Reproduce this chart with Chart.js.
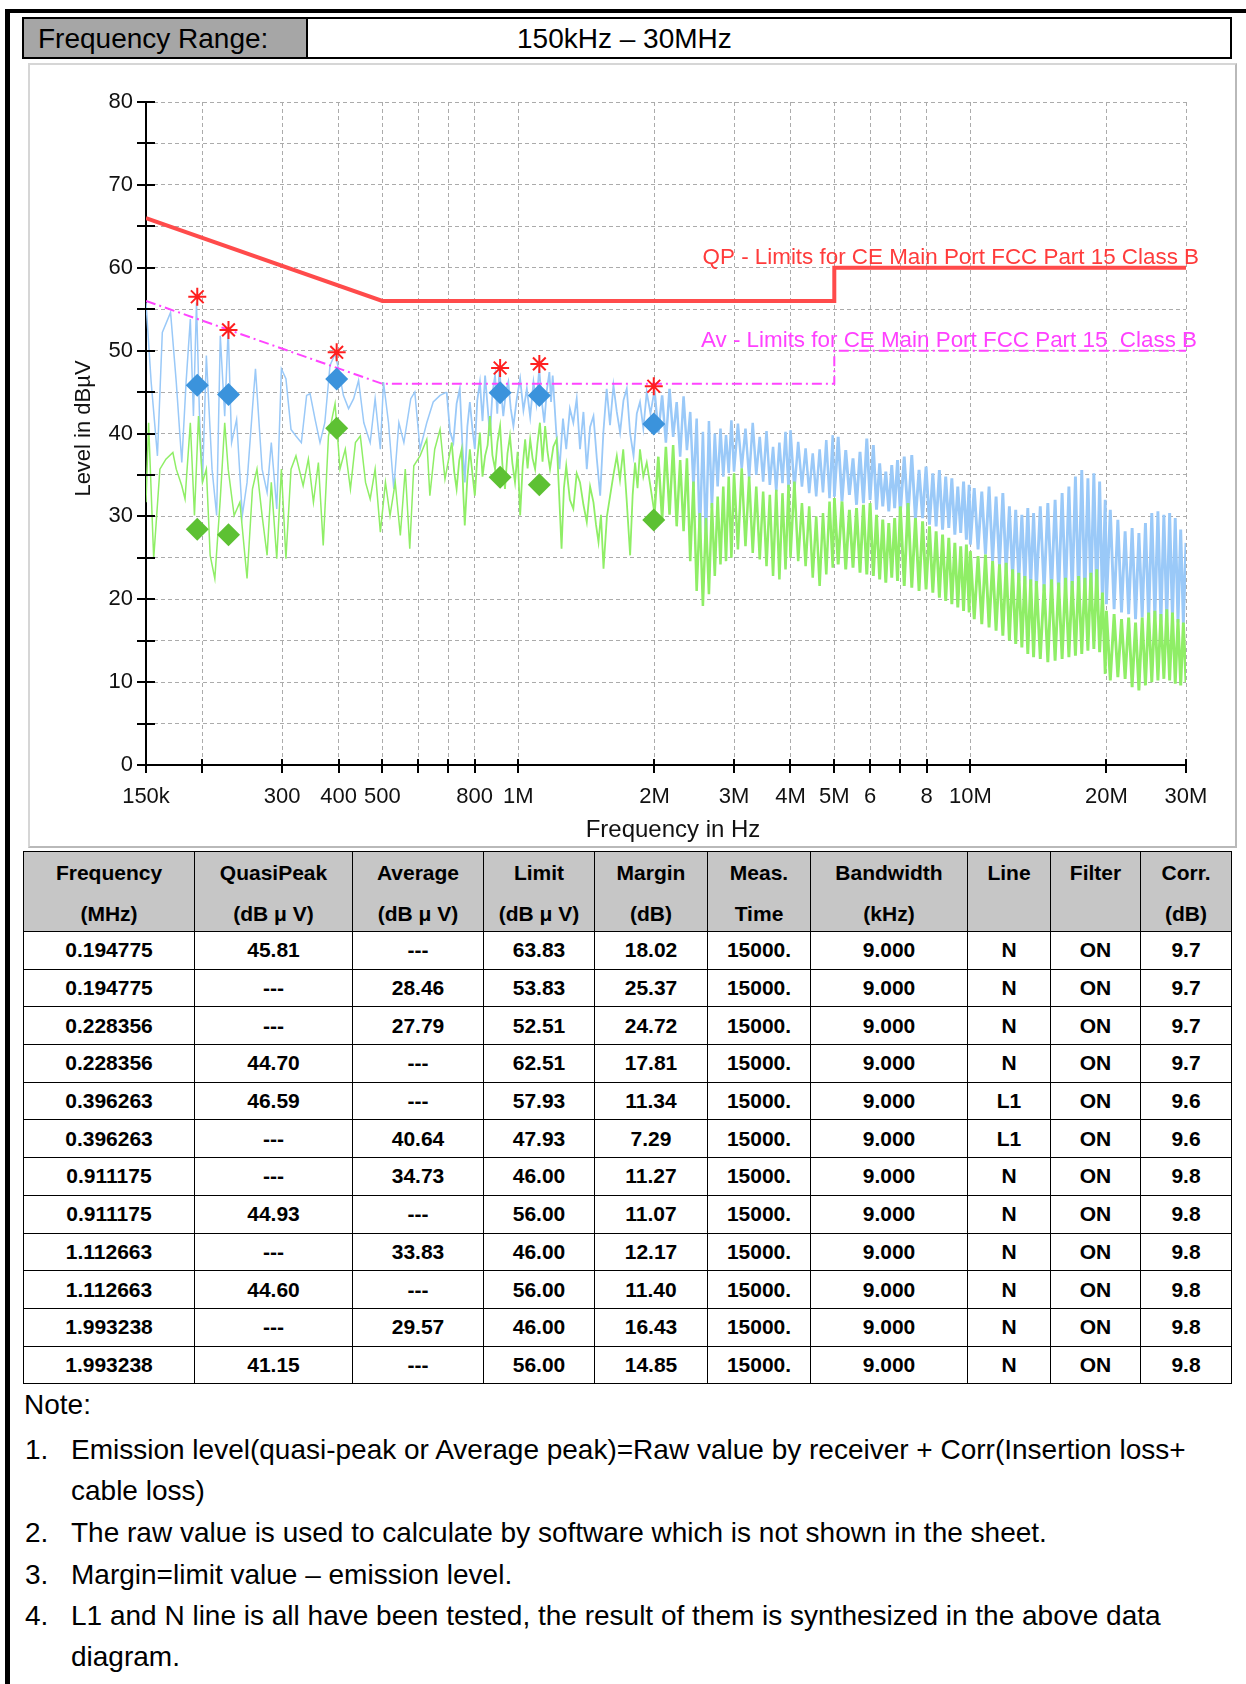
<!DOCTYPE html>
<html>
<head>
<meta charset="utf-8">
<title>Conducted emission 150kHz – 30MHz</title>
<script src="https://cdn.jsdelivr.net/npm/chart.js@4.4.1/dist/chart.umd.min.js"></script>
<style>
  html, body { margin: 0; padding: 0; background: #fff; }
  body { width: 1246px; height: 1684px; position: relative; overflow: hidden;
         font-family: "Liberation Sans", Arial, sans-serif; color: #000; }
  .rule-top { position: absolute; left: 5px; top: 9px; width: 1241px; height: 4px; background: #000; }
  .rule-left { position: absolute; left: 5px; top: 9px; width: 5px; height: 1675px; background: #000; }
  .range { position: absolute; left: 22px; top: 17px; width: 1210px; height: 42px;
           box-sizing: border-box; border: 2px solid #000; font-size: 28px; }
  .range .key { position: absolute; left: 0; top: 0; height: 38px; background: #a6a6a6;
                border-right: 2px solid #000; line-height: 40px; padding-left: 14px; box-sizing: border-box; width: 284px; }
  .range .val { position: absolute; left: 493px; top: 0; line-height: 40px; }
  .panel { position: absolute; left: 28px; top: 63px; width: 1209px; height: 785px; box-sizing: border-box;
           border-style: solid; border-width: 2px; border-color: #d6d6d6 #b9b9b9 #b9b9b9 #d6d6d6; background: #fff; }
  .panel canvas { position: absolute; left: 0; top: 0; }
  .results { position: absolute; left: 23px; top: 851px; display: grid; background: #000; gap: 1px; padding: 1px;
             grid-template-columns: 170px 157px 130px 110px 112px 102px 156px 82px 89px 90px;
             grid-template-rows: 79px repeat(12, 36.7px);
             font: bold 21px "Liberation Sans", Arial, sans-serif; }
  .results div { background: #fff; display: flex; align-items: center; justify-content: center; text-align: center; }
  .results div.head { background: #c6c6c6; flex-direction: column; justify-content: flex-start; line-height: 41px; }
  .notes { position: absolute; left: 0; top: 0; font-size: 28px; }
  .notes div { position: absolute; white-space: nowrap; line-height: 40px; }
</style>
</head>
<body>
<div class="rule-top"></div>
<div class="rule-left"></div>

<div class="range">
  <div class="key">Frequency Range:</div>
  <div class="val">150kHz – 30MHz</div>
</div>

<div class="panel">
  <canvas id="emi" width="1205" height="781" style="width:1205px;height:781px"></canvas>
</div>

<div class="results" id="results"></div>

<div class="notes">
  <div style="left:24px;top:1385px">Note:</div>
  <div style="left:25px;top:1430px">1.</div>
  <div style="left:71px;top:1430px">Emission level(quasi-peak or Average peak)=Raw value by receiver + Corr(Insertion loss+</div>
  <div style="left:71px;top:1471px">cable loss)</div>
  <div style="left:25px;top:1513px">2.</div>
  <div style="left:71px;top:1513px">The raw value is used to calculate by software which is not shown in the sheet.</div>
  <div style="left:25px;top:1555px">3.</div>
  <div style="left:71px;top:1555px">Margin=limit value – emission level.</div>
  <div style="left:25px;top:1596px">4.</div>
  <div style="left:71px;top:1596px">L1 and N line is all have been tested, the result of them is synthesized in the above data</div>
  <div style="left:71px;top:1637px">diagram.</div>
</div>

<script>
// ---- Axis ticks ----
const xTickValues = [0.15, 0.2, 0.3, 0.4, 0.5, 0.6, 0.7, 0.8, 1, 2, 3, 4, 5, 6, 7, 8, 10, 20, 30];
const xTickLabels = ['150k', '', '300', '400', '500', '', '', '800', '1M', '2M', '3M', '4M', '5M', '6', '', '8', '10M', '20M', '30M'];
const xTitle = 'Frequency in Hz';
const yTitle = 'Level in dBµV';

// ---- Limit lines (MHz / dBµV) ----
const limitFreq = [0.15, 0.5, 5, 5, 30];
const qpLimit = [66, 56, 56, 60, 60];
const avLimit = [56, 46, 46, 50, 50];
const qpLimitLabel = 'QP - Limits for CE Main Port FCC Part 15 Class B';
const avLimitLabel = 'Av - Limits for CE Main Port FCC Part 15  Class B';

// ---- Final measurement points ----
const markerFreq = [0.194775, 0.228356, 0.396263, 0.911175, 1.112663, 1.993238];
const qpLevel = [45.81, 44.70, 46.59, 44.93, 44.60, 41.15];
const avLevel = [28.46, 27.79, 40.64, 34.73, 33.83, 29.57];
const peakMarkLevel = [56.5, 52.5, 49.8, 47.9, 48.4, 45.7];
const qpLimitAt = [63.83, 62.51, 57.93, 56.00, 56.00, 56.00];
const avLimitAt = [53.83, 52.51, 47.93, 46.00, 46.00, 46.00];
const qpMargin = [18.02, 17.81, 11.34, 11.07, 11.40, 14.85];
const avMargin = [25.37, 24.72, 7.29, 11.27, 12.17, 16.43];
const lineName = ['N', 'N', 'L1', 'N', 'N', 'N'];
const corrDb = [9.7, 9.7, 9.6, 9.8, 9.8, 9.8];
const tableRows = [[0, 'QP'], [0, 'AV'], [1, 'AV'], [1, 'QP'], [2, 'QP'], [2, 'AV'],
                   [3, 'AV'], [3, 'QP'], [4, 'AV'], [4, 'QP'], [5, 'AV'], [5, 'QP']];

// ---- Peak-detector scan, 150 kHz – 2 MHz ----
const lowPeakFreq = [
  0.150,0.154,0.159,0.163,0.170,0.175,0.180,0.184,0.188,0.191,0.194,0.197,0.200,0.204,0.210,0.215,
  0.219,0.224,0.228,0.232,0.238,0.245,0.251,0.258,0.262,0.271,0.278,0.284,0.292,0.299,0.306,0.314,
  0.322,0.331,0.340,0.346,0.355,0.364,0.373,0.383,0.393,0.400,0.410,0.421,0.432,0.443,0.455,0.470,
  0.482,0.495,0.503,0.516,0.530,0.544,0.558,0.578,0.590,0.606,0.627,0.648,0.671,
  0.694,0.706,0.718,0.730,0.742,0.752,0.761,0.771,0.781,0.791,0.801,0.811,0.822,0.833,0.844,0.855,
  0.865,0.876,0.888,0.898,0.908,0.917,0.926,0.938,0.950,0.962,0.975,0.992,1.009,1.026,1.044,1.062,
  1.080,1.096,1.112,1.126,1.141,1.156,1.171,1.181,1.191,1.212,1.233,1.255,1.276,1.300,1.323,1.346,
  1.369,1.393,1.417,1.441,1.466,1.491,1.517,1.542,1.568,1.595,1.623,1.651,1.679,1.708,1.737,1.767,
  1.798,1.828,1.858,1.890,1.923,1.960
];
const lowPeakLevel = [
  55.8,46.2,37.3,52.2,54.6,46.2,36.5,46.2,53.8,42.1,55.8,42.1,34.1,49.4,35.7,30.1,
  51.8,42.1,52.6,38.9,41.7,30.1,34.1,43.0,47.8,35.7,32.9,38.9,30.9,47.8,46.6,40.5,
  39.7,38.9,44.6,44.8,41.7,38.9,41.3,48.2,49.6,47.8,44.6,43.0,44.2,46.4,41.3,38.9,
  44.2,38.1,46.2,41.3,33.3,41.3,38.9,44.2,45.0,38.1,41.3,43.8,44.6,
  45.0,40.2,38.9,43.6,45.4,38.4,34.1,40.8,43.8,40.6,38.1,44.0,46.2,41.5,47.0,43.2,
  39.7,44.8,47.0,42.4,47.8,44.6,42.1,45.0,46.2,43.0,40.9,44.2,46.6,42.8,45.4,42.0,
  46.2,43.6,47.8,44.0,41.3,45.2,47.4,43.8,47.0,40.4,35.7,41.8,38.1,43.0,41.3,44.2,
  38.1,42.6,35.7,40.8,42.1,37.0,32.5,40.2,45.4,41.0,45.8,42.6,40.1,44.0,45.4,40.0,
  37.3,42.4,43.8,40.6,45.0,42.4
];

// ---- Average-detector scan, 150 kHz – 2 MHz ----
const lowAvgFreq = [
  0.150,0.152,0.156,0.161,0.166,0.172,0.175,0.180,0.183,0.188,0.192,0.196,0.200,0.204,0.208,0.213,
  0.219,0.224,0.228,0.235,0.242,0.251,0.258,0.264,0.271,0.278,0.284,0.292,0.299,0.306,0.314,0.322,
  0.334,0.343,0.352,0.361,0.370,0.380,0.393,0.403,0.414,0.425,0.436,0.447,0.459,0.470,0.482,0.495,
  0.508,0.520,0.534,0.548,0.562,0.575,0.587,0.606,0.627,0.637,0.653,0.671,0.688,0.712,
  0.721,0.730,0.740,0.749,0.755,0.761,0.771,0.781,0.791,0.801,0.811,0.822,0.833,0.844,0.855,0.865,
  0.876,0.888,0.899,0.911,0.922,0.934,0.946,0.958,0.970,0.983,0.996,1.009,1.022,1.035,1.048,1.062,
  1.075,1.089,1.102,1.116,1.131,1.146,1.160,1.175,1.195,1.215,1.230,1.246,1.261,1.276,1.300,1.323,
  1.346,1.369,1.393,1.417,1.441,1.466,1.485,1.504,1.523,1.543,1.570,1.596,1.623,1.651,1.678,1.706,
  1.736,1.767,1.790,1.812,1.835,1.858,1.890,1.923,1.960
];
const lowAvgLevel = [
  31.7,41.3,24.9,35.7,36.9,37.7,35.7,33.7,32.1,41.3,30.1,42.1,34.1,35.7,25.3,22.5,
  32.1,41.3,35.7,30.1,31.7,22.5,33.3,35.7,30.1,25.3,34.1,24.9,35.7,24.9,35.7,37.3,
  33.7,36.9,31.7,36.5,26.5,39.7,43.6,35.7,38.1,33.3,38.9,39.7,34.1,32.1,35.7,28.1,
  34.1,30.1,34.1,27.7,35.7,26.1,36.1,37.3,39.3,32.5,38.1,40.5,34.5,38.9,
  35.4,33.3,36.8,38.1,33.0,28.9,34.6,38.1,35.2,32.5,37.0,40.1,34.8,37.3,38.6,42.1,
  37.4,35.7,39.0,40.9,36.2,33.3,37.6,39.7,36.4,34.1,37.8,30.1,36.0,39.3,35.8,39.3,
  37.0,35.7,38.8,41.3,36.6,40.9,37.8,35.7,38.4,39.3,33.0,26.1,33.4,36.1,32.0,30.9,
  35.2,34.1,31.4,29.3,33.6,31.7,29.0,26.9,30.2,23.7,30.0,32.5,35.0,37.3,34.4,38.1,
  32.0,25.3,32.6,36.5,33.4,38.1,34.8,36.5,33.6
];

// ---- Both detectors, 2 MHz – 30 MHz ----
const bandFreq = [
  2.00,2.04,2.08,2.12,2.16,2.20,2.24,2.28,2.32,2.36,2.40,2.44,2.48,2.52,2.56,2.60,2.64,2.68,2.72,2.76,2.80,2.84,2.88,2.92,2.96,
  3.00,3.06,3.12,3.18,3.24,3.30,3.36,3.42,3.48,3.54,3.60,3.66,3.72,3.78,3.84,3.90,3.96,
  4.00,4.08,4.16,4.24,4.32,4.40,4.48,4.56,4.64,4.72,4.80,4.88,4.96,
  5.0,5.1,5.2,5.3,5.4,5.5,5.6,5.7,5.8,5.9,6.0,6.1,6.2,6.3,6.4,6.5,6.6,6.7,6.8,6.9,
  7.00,7.14,7.28,7.42,7.56,7.70,7.84,7.98,8.12,8.26,8.40,8.54,8.68,8.82,8.96,9.10,9.24,9.38,9.52,9.66,9.80,9.94,
  10.0,10.2,10.4,10.6,10.8,11.0,11.2,11.4,11.6,11.8,12.0,12.2,12.4,12.6,12.8,13.0,13.2,13.4,13.6,13.8,
  14.00,14.28,14.56,14.84,15.12,15.40,15.68,15.96,16.24,16.52,16.80,17.08,17.36,17.64,17.92,18.20,18.48,18.76,19.04,19.32,19.60,19.88,
  20.0,20.4,20.8,21.2,21.6,22.0,22.4,22.8,23.2,23.6,24.0,24.4,24.8,25.2,25.6,26.0,26.4,26.8,27.2,27.6,28.0,28.4,28.8,29.2,29.6,30.0
];
const bandPeakLevel = [
  45.2,40.1,44.6,38.9,45.4,39.6,43.8,37.2,44.5,38.0,42.6,33.5,41.8,27.4,40.2,26.8,41.5,31.0,40.0,33.6,40.6,34.8,39.8,35.2,41.6,
  35.4,41.2,35.8,40.6,34.6,41.3,35.0,39.6,34.2,40.3,33.8,38.4,33.0,38.9,34.0,40.2,33.4,
  40.4,33.2,39.0,33.6,38.2,32.8,37.6,32.4,38.1,32.9,39.2,32.2,39.8,
  32.4,39.6,31.8,38.0,32.6,37.0,31.4,37.8,31.6,39.4,32.0,38.6,30.8,36.4,31.2,35.4,30.6,36.2,31.0,36.8,
  30.4,37.2,30.0,37.4,29.6,35.6,29.8,36.0,29.0,35.2,28.8,35.6,28.4,34.8,28.6,34.6,27.8,33.6,28.0,34.2,27.2,33.8,
  26.6,33.4,26.0,33.0,25.4,33.6,24.6,32.4,24.0,32.8,23.2,31.2,22.6,30.8,22.2,30.2,21.8,31.0,21.6,30.4,
  21.2,31.2,21.0,31.6,20.8,32.0,20.6,32.8,20.4,33.6,20.6,34.8,20.2,35.6,20.0,34.6,20.4,35.2,19.8,34.2,19.6,32.0,
  19.4,30.8,18.8,29.6,18.4,28.2,18.2,28.6,17.6,28.0,17.8,29.2,17.4,30.4,17.6,30.6,17.2,30.2,17.4,30.4,17.6,29.8,17.2,28.4,17.0,26.8
];
const bandAvgLevel = [
  30.4,37.2,29.6,38.4,30.2,38.6,28.8,36.8,28.2,37.0,24.6,34.2,21.0,30.4,19.2,29.8,20.6,31.6,22.8,32.4,24.2,33.6,24.6,34.8,25.0,
  35.2,26.0,35.8,26.4,34.8,25.6,33.6,24.8,33.0,24.0,32.6,22.8,33.2,22.4,32.8,23.6,33.8,
  25.0,34.2,24.6,31.6,24.0,31.2,22.6,30.0,21.6,30.4,23.0,31.8,23.8,
  32.2,24.2,31.8,23.6,30.8,23.8,31.0,23.2,31.4,23.0,31.6,22.8,30.2,22.4,29.6,22.0,29.2,22.6,29.8,22.2,
  31.2,21.6,31.6,21.4,29.8,21.0,29.4,21.2,28.8,20.8,28.2,20.2,27.8,19.8,27.4,19.4,26.8,19.0,26.4,18.6,26.6,18.4,
  25.8,17.6,25.2,17.0,25.4,16.6,24.6,16.2,24.2,15.6,24.4,15.0,23.6,14.6,23.2,14.2,22.8,13.4,22.4,13.0,
  22.2,12.8,21.8,12.4,22.4,12.6,22.0,12.8,22.6,13.0,22.2,13.2,22.8,13.4,22.6,13.8,23.2,14.0,23.6,13.6,20.8,11.0,
  18.6,10.2,18.2,10.6,17.6,10.4,17.8,9.4,17.2,9.0,17.8,9.6,18.4,10.0,18.6,10.2,18.2,10.4,18.8,10.2,18.4,9.8,17.6,9.6,17.2,10.0
];

// ---- Result table ----
const headCells = [['Frequency', '(MHz)'], ['QuasiPeak', '(dB μ V)'], ['Average', '(dB μ V)'], ['Limit', '(dB μ V)'],
                   ['Margin', '(dB)'], ['Meas.', 'Time'], ['Bandwidth', '(kHz)'], ['Line', ''], ['Filter', ''], ['Corr.', '(dB)']];
const grid = document.getElementById('results');
headCells.forEach(([a, b]) => {
  const d = document.createElement('div');
  d.className = 'head';
  d.innerHTML = '<span>' + a + '</span><span>' + (b || '&nbsp;') + '</span>';
  grid.appendChild(d);
});
tableRows.forEach(([i, kind]) => {
  const isQp = kind === 'QP';
  const cells = [
    markerFreq[i].toFixed(6),
    isQp ? qpLevel[i].toFixed(2) : '---',
    isQp ? '---' : avLevel[i].toFixed(2),
    (isQp ? qpLimitAt : avLimitAt)[i].toFixed(2),
    (isQp ? qpMargin : avMargin)[i].toFixed(2),
    '15000.', '9.000', lineName[i], 'ON', corrDb[i].toFixed(1)
  ];
  cells.forEach(t => { const d = document.createElement('div'); d.textContent = t; grid.appendChild(d); });
});

// ---- Chart ----
const FONT = '"Liberation Sans", Arial, sans-serif';
Chart.defaults.font.family = FONT;
const toPoints = (fs, ls) => fs.map((f, i) => ({ x: f, y: ls[i] }));

// the scan gets denser towards high frequencies, so the trace is stroked wider there
const traceWidth = c => {
  const f = c.p0.parsed.x;
  if (f >= 5) return 2.9;
  if (f >= 2) return 2.5;
  return f >= 0.69 ? 1.8 : 1.5;
};

const axisDecor = {
  id: 'axisDecor',
  afterDraw(chart) {
    const { ctx, chartArea: a, scales: { x, y } } = chart;
    ctx.save();
    ctx.strokeStyle = '#000';
    ctx.lineWidth = 2;
    ctx.beginPath();
    y.ticks.forEach(t => {
      const p = Math.round(y.getPixelForValue(t.value));
      ctx.moveTo(a.left - 9, p); ctx.lineTo(a.left + 9, p);
    });
    x.ticks.forEach(t => {
      const p = Math.round(x.getPixelForValue(t.value));
      ctx.moveTo(p, a.bottom - 6); ctx.lineTo(p, a.bottom + 8);
    });
    ctx.stroke();

    ctx.fillStyle = '#111';
    ctx.textAlign = 'center';
    ctx.textBaseline = 'middle';
    ctx.font = '24px ' + FONT;
    ctx.fillText(xTitle, (a.left + a.right) / 2 + 7, a.bottom + 65);
    ctx.save();
    ctx.translate(54, (a.top + a.bottom) / 2 - 5);
    ctx.rotate(-Math.PI / 2);
    ctx.font = '22px ' + FONT;
    ctx.fillText(yTitle, 0, 0);
    ctx.restore();

    ctx.font = '22.4px ' + FONT;
    ctx.textAlign = 'right';
    ctx.textBaseline = 'alphabetic';
    ctx.fillStyle = '#ff3b3b';
    ctx.fillText(qpLimitLabel, a.right + 13, y.getPixelForValue(qpLimit[qpLimit.length - 1]) - 4);
    ctx.fillStyle = '#ff40ff';
    ctx.fillText(avLimitLabel, a.right + 11, y.getPixelForValue(avLimit[avLimit.length - 1]) - 4);
    ctx.restore();
  }
};

const gridStyle = { color: '#ababab', lineWidth: 1, drawTicks: false };
const borderStyle = { display: true, color: '#000', width: 2, dash: [4, 3] };

new Chart(document.getElementById('emi'), {
  type: 'scatter',
  data: {
    datasets: [
      { label: 'Peak', data: toPoints(lowPeakFreq.concat(bandFreq), lowPeakLevel.concat(bandPeakLevel)),
        showLine: true, borderColor: '#9ac9f8', borderWidth: 1.5, pointRadius: 0, order: 7,
        segment: { borderWidth: traceWidth } },
      { label: 'Average', data: toPoints(lowAvgFreq.concat(bandFreq), lowAvgLevel.concat(bandAvgLevel)),
        showLine: true, borderColor: '#8fee66', borderWidth: 1.5, pointRadius: 0, order: 6,
        segment: { borderWidth: traceWidth } },
      { label: 'QP limit', data: toPoints(limitFreq, qpLimit),
        showLine: true, borderColor: '#ff4b4b', borderWidth: 4, pointRadius: 0, order: 5 },
      { label: 'AV limit', data: toPoints(limitFreq, avLimit),
        showLine: true, borderColor: '#ff44ff', borderWidth: 2, borderDash: [10, 4, 2, 4], pointRadius: 0, order: 4 },
      { label: 'QP', data: toPoints(markerFreq, qpLevel), pointStyle: 'rectRot', pointRadius: 11.5,
        backgroundColor: '#3b93dc', borderColor: '#3b93dc', borderWidth: 0, order: 3 },
      { label: 'AV', data: toPoints(markerFreq, avLevel), pointStyle: 'rectRot', pointRadius: 11.5,
        backgroundColor: '#5dc133', borderColor: '#5dc133', borderWidth: 0, order: 2 },
      { label: 'Peak marks', data: toPoints(markerFreq, peakMarkLevel), pointStyle: 'star', pointRadius: 9,
        borderColor: '#ff1f1f', backgroundColor: '#ff1f1f', borderWidth: 2, order: 1 }
    ]
  },
  options: {
    responsive: false,
    animation: false,
    devicePixelRatio: 1,
    layout: { padding: { left: 0, top: 37, right: 49, bottom: 0 } },
    plugins: { legend: { display: false }, tooltip: { enabled: false } },
    scales: {
      x: {
        type: 'logarithmic', min: 0.15, max: 30,
        afterFit(s) { s.height = 81; },
        afterBuildTicks(s) { s.ticks = xTickValues.map(v => ({ value: v })); },
        ticks: { autoSkip: false, maxRotation: 0, minRotation: 0, padding: 19, color: '#111',
                 font: { size: 22 }, callback: (v, i) => xTickLabels[i] },
        grid: gridStyle,
        border: borderStyle
      },
      y: {
        min: 0, max: 80,
        afterFit(s) { s.width = 116; },
        ticks: { stepSize: 5, autoSkip: false, padding: 13, color: '#111', font: { size: 22 },
                 callback: v => (v % 10 === 0 ? String(v) : '') },
        grid: gridStyle,
        border: borderStyle
      }
    }
  },
  plugins: [axisDecor]
});
</script>
</body>
</html>
